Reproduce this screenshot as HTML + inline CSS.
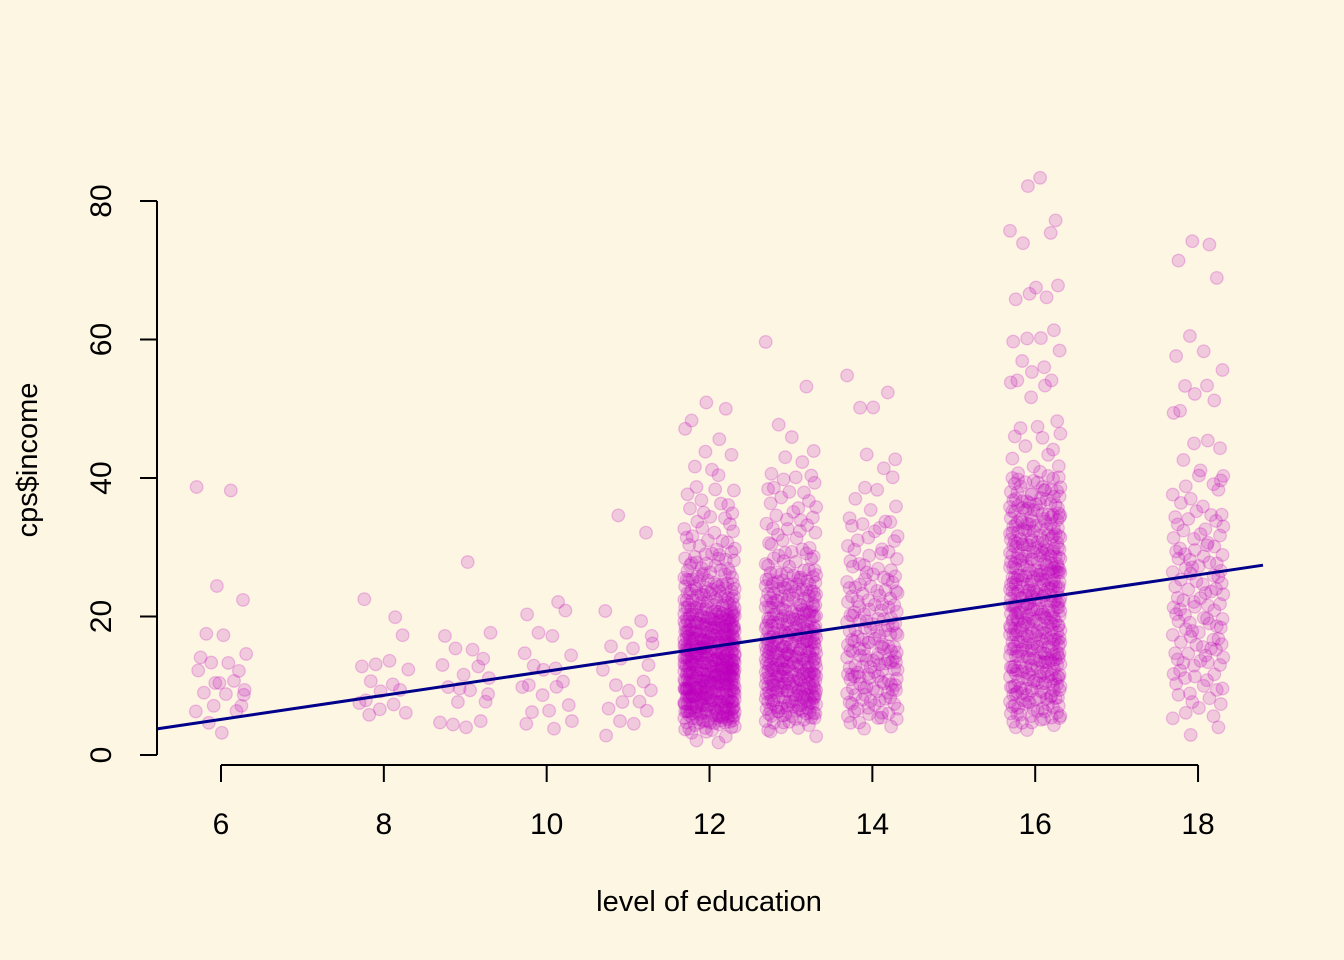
<!DOCTYPE html>
<html><head><meta charset="utf-8">
<style>
html,body{margin:0;padding:0;background:#FDF6E3;}
svg{display:block;font-family:"Liberation Sans",Arial,sans-serif;}
</style></head>
<body>
<svg id="chart" width="1344" height="960" viewBox="0 0 1344 960">
<rect width="1344" height="960" fill="#FDF6E3"/>
<g id="pts"></g>
<line id="fit" stroke="#00008B" stroke-width="3"/>
<g id="axes"></g>
<text x="709" y="911" font-size="29" text-anchor="middle" fill="#000">level of education</text>
<text transform="translate(37,460) rotate(-90)" font-size="29" text-anchor="middle" fill="#000">cps$income</text>
</svg>
<script>
const sparseLevels = [6, 8, 9, 10, 11];
const inc6 = [38.5,38.5,24,22.5,17.5,17,15,14,13.5,13,12.5,12,11,10,9.5,9,8.5,7.5,7,6.5,6,5,3,9,10];
const inc8 = [20,22.5,17,13.5,13.5,13,12,11,10,9.5,9,8,7.5,7,7,6,6];
const inc9 = [27.5,18,17,15.5,15,14,13,12.5,12,11,10,9,8,7.5,5,4.5,4.5,4,8.5,10];
const inc10 = [22,20.5,20.5,18,17,15,14,13,12.5,12,11,10,10,9.5,9,7,6.5,6,5,4.5,3.5];
const inc11 = [35,32,21,19,18,17,16,15,14,13,12,11,10,9.5,9,8,7.5,7,6,5,4.5,2.5,16.5];
const sparseIncomes = [inc6, inc8, inc9, inc10, inc11];

const denseLevels = [12, 13, 14, 16, 18];
const incomeBins = [2,3,4,5,6,7,8,9,10,11,12,13,14,15,16,17,18,19,20,21,22,23,24,25,26,27,28,29,30,31,32,33,34,35,36,37,38,39,40];
const cnt12 = [2,3,8,18,24,25,27,28,30,30,30,30,30,29,28,26,25,24,23,16,13,12,12,10,8,6,7,5,4,4,3,3,3,2,3,1,3,1,1];
const cnt13 = [0,2,4,8,13,15,17,18,19,19,19,19,19,18,18,17,16,15,15,13,11,11,11,11,9,5,5,5,3,3,3,4,3,2,3,2,3,2,3];
const cnt14 = [0,0,2,5,5,6,6,7,8,8,8,8,9,8,8,7,7,7,6,6,6,5,6,5,4,4,3,3,3,3,2,3,3,1,1,1,1,1,1];
const cnt16 = [0,0,3,7,8,9,10,11,12,12,13,13,14,14,14,14,14,15,15,15,15,15,15,15,15,14,13,13,13,12,11,11,11,10,10,8,8,6,6];
const cnt18 = [0,1,1,1,2,2,2,3,3,3,3,4,4,4,4,4,4,4,5,4,4,4,4,4,4,4,4,4,4,3,3,3,3,3,2,1,2,2,2];
const denseCounts = [cnt12, cnt13, cnt14, cnt16, cnt18];
const hi12 = [51,50,48,47.5,45.5,44,43,42,41];
const hi13 = [60,53,48,45.5,44,43,42,41];
const hi14 = [55,52,50.5,50,43,43,41.5];
const hi16 = [83,82.5,77,76,75,74,67.5,67.5,67,66,66,61,60.5,60,60,58,57,56,55,54.5,54,54,53,52,48,47.5,47,46.5,46,45.5,45,44,43,43,42,41.5,41,40.5];
const hi18 = [74,74,71,69,60.5,58,58,55.5,53.5,53,52.5,51,50,49,45.5,45,44,43,41,40.5];
const denseHigh = [hi12, hi13, hi14, hi16, hi18];

const jitter = [-0.3,0.12,-0.05,0.27,-0.18,0.03,0.31,-0.25,0.09,-0.12,0.22,-0.28,0.16,-0.02,0.29,-0.21,0.06,-0.09,0.25,-0.31,0.19,-0.15,0.01,0.28,-0.07,0.14,-0.24,0.23,-0.1,0.07,-0.27,0.3,-0.16,0.11,-0.04,0.2,-0.22];
const yJitter = [0.2,-0.3,0.4,-0.1,0.0,0.3,-0.4,0.1,-0.2,0.35,-0.35];
const xTicks = [6, 8, 10, 12, 14, 16, 18];
const yTicks = [0, 20, 40, 60, 80];
const fitIntercept = -5.3;
const fitSlope = 1.74;

const NS = 'http://www.w3.org/2000/svg';
const xs = e => 221 + (e - 6) * 81.42;
const ys = v => 755 - v * 6.925;
const plotL = 157, plotR = 1263;
const pts = document.getElementById('pts');
let k = 0;
function addPt(lv, v, scale) {
  const c = document.createElementNS(NS, 'circle');
  c.setAttribute('cx', xs(lv + jitter[k % jitter.length] * scale).toFixed(1));
  c.setAttribute('cy', ys(v + yJitter[k % yJitter.length]).toFixed(1));
  c.setAttribute('r', 6.3);
  c.setAttribute('fill', 'rgba(190,0,190,0.18)');
  c.setAttribute('stroke', 'rgba(190,0,190,0.22)');
  c.setAttribute('stroke-width', 1.3);
  
  
  pts.appendChild(c);
  k++;
}
sparseLevels.forEach((lv, gi) => sparseIncomes[gi].forEach(v => addPt(lv, v, 1.0)));
denseLevels.forEach((lv, gi) => {
  denseCounts[gi].forEach((n, bi) => { for (let i = 0; i < n; i++) addPt(lv, incomeBins[bi], 1.0); });
  denseHigh[gi].forEach(v => addPt(lv, v, 1.0));
});

const eL = 6 + (plotL - 221) / 81.42, eR = 6 + (plotR - 221) / 81.42;
const fit = document.getElementById('fit');
fit.setAttribute('x1', plotL);
fit.setAttribute('y1', ys(fitIntercept + fitSlope * eL));
fit.setAttribute('x2', plotR);
fit.setAttribute('y2', ys(fitIntercept + fitSlope * eR));

const ax = document.getElementById('axes');
function mk(tag, attrs) {
  const el = document.createElementNS(NS, tag);
  for (const a in attrs) el.setAttribute(a, attrs[a]);
  ax.appendChild(el);
  return el;
}
const xl = mk('line', {x1: xs(xTicks[0]), x2: xs(xTicks[xTicks.length - 1]), y1: 765, y2: 765, stroke: '#000', 'stroke-width': 2});


xTicks.forEach(t => {
  const tk = mk('line', {x1: xs(t), x2: xs(t), y1: 765, y2: 782, stroke: '#000', 'stroke-width': 2});
  
  
  const lb = mk('text', {x: xs(t), y: 834, 'font-size': 30, 'text-anchor': 'middle', fill: '#000'});
  lb.textContent = t;
  
  
});
const yl = mk('line', {x1: 157, x2: 157, y1: ys(yTicks[0]), y2: ys(yTicks[yTicks.length - 1]), stroke: '#000', 'stroke-width': 2});


yTicks.forEach(t => {
  const tk = mk('line', {x1: 140, x2: 157, y1: ys(t), y2: ys(t), stroke: '#000', 'stroke-width': 2});
  
  
  const lb = mk('text', {transform: 'translate(111,' + ys(t) + ') rotate(-90)', 'font-size': 30, 'text-anchor': 'middle', fill: '#000'});
  lb.textContent = t;
  
  
});
</script>
</body></html>
